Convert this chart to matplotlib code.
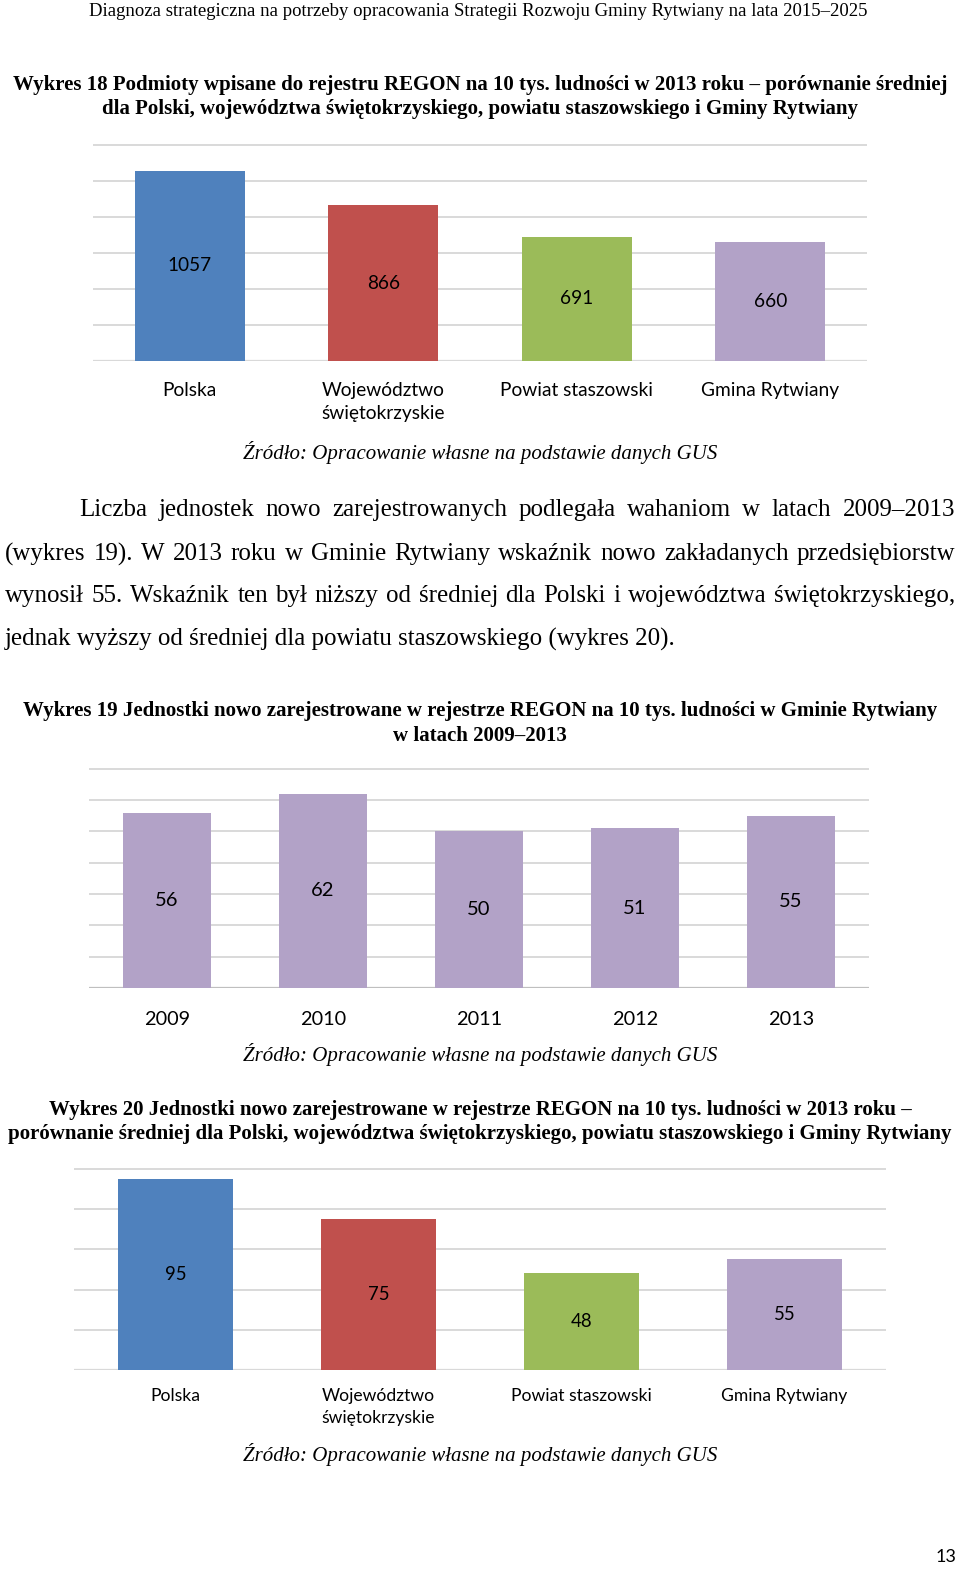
import matplotlib
matplotlib.use("Agg")
import matplotlib.pyplot as plt

W, H = 960, 1585

regions = ["Polska", "Województwo\nświętokrzyskie", "Powiat staszowski", "Gmina Rytwiany"]
regon_2013 = [1057, 866, 691, 660]
years = ["2009", "2010", "2011", "2012", "2013"]
new_units = [56, 62, 50, 51, 55]
new_units_2013 = [95, 75, 48, 55]

region_colors = ["#4F81BD", "#C0504D", "#9BBB59", "#B2A2C7"]
year_colors = ["#B2A2C7"] * len(years)

source = "Źródło: Opracowanie własne na podstawie danych GUS"
paragraph = [
    "Liczba jednostek nowo zarejestrowanych podlegała wahaniom w latach 2009–2013",
    "(wykres 19). W 2013 roku w Gminie Rytwiany wskaźnik nowo zakładanych przedsiębiorstw",
    "wynosił 55. Wskaźnik ten był niższy od średniej dla Polski i województwa świętokrzyskiego,",
    "jednak wyższy od średniej dla powiatu staszowskiego (wykres 20).",
]

SERIF = "Liberation Serif"
SANS = "Lato"

fig = plt.figure(figsize=(W / 100, H / 100), dpi=100)
fig.patch.set_facecolor("white")


def put(x, y, s, **kw):
    # x, y in pixels from the top left corner
    kw.setdefault("family", SERIF)
    return fig.text(x / W, 1 - y / H, s, **kw)


def justify(line, y, x0, x1, size):
    words = line.split(" ")
    arts = [put(0, y, w, fontsize=size, va="center") for w in words]
    r = fig.canvas.get_renderer()
    widths = [a.get_window_extent(r).width for a in arts]
    gap = (x1 - x0 - sum(widths)) / (len(words) - 1)
    x = x0
    for a, w in zip(arts, widths):
        a.set_x(x / W)
        x += w + gap


def bar_chart(rect, labels, values, colors, ymax, step, size, tick_size, pad, base="#D9D9D9"):
    left, top, right, bottom = rect
    ax = fig.add_axes([left / W, 1 - bottom / H, (right - left) / W, (bottom - top) / H])
    xs = list(range(len(values)))
    bars = ax.bar(xs, values, width=0.57, color=colors, zorder=2)
    ax.bar_label(bars, labels=[str(v) for v in values], label_type="center",
                 fontsize=size, family=SANS, color="black")
    ax.set_xlim(-0.5, len(values) - 0.5)
    ax.set_ylim(0, ymax * 1.004)
    ax.set_yticks(range(0, ymax + 1, step))
    ax.yaxis.grid(True, color="#D9D9D9", lw=1.4)
    ax.axhline(0, color=base, lw=1.6, zorder=1)
    ax.set_axisbelow(True)
    for s in ax.spines.values():
        s.set_visible(False)
    ax.tick_params(left=False, labelleft=False, bottom=False, pad=pad)
    ax.set_xticks(xs)
    ax.set_xticklabels(labels, fontsize=tick_size, family=SANS, linespacing=1.45)
    return ax


put(478, 11, "Diagnoza strategiczna na potrzeby opracowania Strategii Rozwoju Gminy Rytwiany na lata 2015–2025",
    fontsize=13.5, ha="center", va="center")

put(480, 85, "Wykres 18 Podmioty wpisane do rejestru REGON na 10 tys. ludności w 2013 roku – porównanie średniej",
    fontsize=15, weight="bold", ha="center", va="center")
put(480, 109, "dla Polski, województwa świętokrzyskiego, powiatu staszowskiego i Gminy Rytwiany",
    fontsize=15, weight="bold", ha="center", va="center")

bar_chart((93, 144, 867, 361), regions, regon_2013, region_colors, 1200, 200, 13.7, 13.8, 11.5)
put(480, 452, source, fontsize=15, style="italic", ha="center", va="center")

justify(paragraph[0], 510, 79, 955, 18)
justify(paragraph[1], 554, 5, 955, 18)
justify(paragraph[2], 596, 5, 955, 18)
put(5, 639, paragraph[3], fontsize=18, va="center")

put(480, 711, "Wykres 19 Jednostki nowo zarejestrowane w rejestrze REGON na 10 tys. ludności w Gminie Rytwiany",
    fontsize=15, weight="bold", ha="center", va="center")
put(480, 736, "w latach 2009–2013", fontsize=15, weight="bold", ha="center", va="center")

bar_chart((89, 768, 869, 988), years, new_units, year_colors, 70, 10, 14.5, 14.3, 13, base="#BFBFBF")
put(480, 1055, source, fontsize=15, style="italic", ha="center", va="center")

put(480, 1110, "Wykres 20 Jednostki nowo zarejestrowane w rejestrze REGON na 10 tys. ludności w 2013 roku –",
    fontsize=15, weight="bold", ha="center", va="center")
put(480, 1134, "porównanie średniej dla Polski, województwa świętokrzyskiego, powiatu staszowskiego i Gminy Rytwiany",
    fontsize=15, weight="bold", ha="center", va="center")

bar_chart((74, 1168, 886, 1370), regions, new_units_2013, region_colors, 100, 20, 13.4, 12.6, 9.5)
put(480, 1455, source, fontsize=15, style="italic", ha="center", va="center")

put(956, 1557, "13", fontsize=13, family=SANS, ha="right", va="center")

fig.savefig("out.png", dpi=100, facecolor="white")
